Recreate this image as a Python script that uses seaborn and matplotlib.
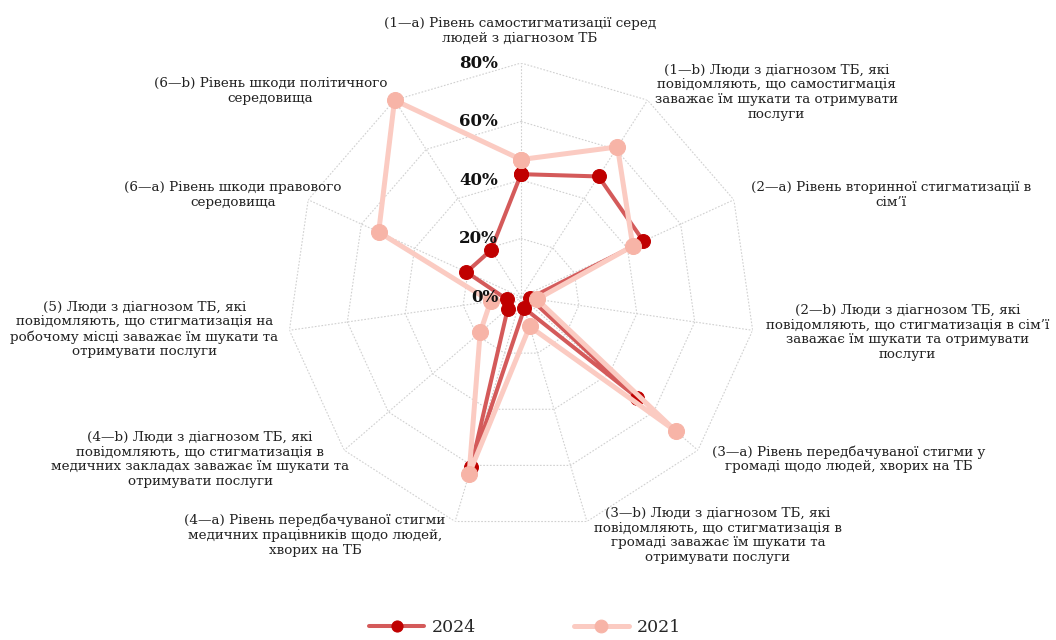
import numpy as np
import pandas as pd
import matplotlib
matplotlib.use("Agg")
import matplotlib.pyplot as plt
import seaborn as sns

# ---- data ----
categories = [
    "(1—a) Рівень самостигматизації серед\nлюдей з діагнозом ТБ",
    "(1—b) Люди з діагнозом ТБ, які\nповідомляють, що самостигмація\nзаважає їм шукати та отримувати\nпослуги",
    "(2—a) Рівень вторинної стигматизації в\nсім’ї",
    "(2—b) Люди з діагнозом ТБ, які\nповідомляють, що стигматизація в сім’ї\nзаважає їм шукати та отримувати\nпослуги",
    "(3—a) Рівень передбачуваної стигми у\nгромаді щодо людей, хворих на ТБ",
    "(3—b) Люди з діагнозом ТБ, які\nповідомляють, що стигматизація в\nгромаді заважає їм шукати та\nотримувати послуги",
    "(4—a) Рівень передбачуваної стигми\nмедичних працівників щодо людей,\nхворих на ТБ",
    "(4—b) Люди з діагнозом ТБ, які\nповідомляють, що стигматизація в\nмедичних закладах заважає їм шукати та\nотримувати послуги",
    "(5) Люди з діагнозом ТБ, які\nповідомляють, що стигматизація на\nробочому місці заважає їм шукати та\nотримувати послуги",
    "(6—a) Рівень шкоди правового\nсередовища",
    "(6—b) Рівень шкоди політичного\nсередовища",
]
values_2024 = [42, 49, 46, 3, 52.5, 4, 60.5, 6, 5, 20.5, 19]
values_2021 = [47, 61, 42, 5.5, 70, 10.5, 63, 18.5, 10.5, 53.5, 80]
series_names = ["2024", "2021"]
tick_values = [0, 20, 40, 60, 80]
tick_labels = ["0%", "20%", "40%", "60%", "80%"]

# ---- style ----
sns.set_theme(style="white")
plt.rcParams["font.family"] = ["DejaVu Serif"]

fig = plt.figure(figsize=(10.56, 6.4), dpi=100)
ax = fig.add_axes([0.2718, 0.1703, 0.4432, 0.73125], projection="polar")
ax.set_theta_zero_location("N")
ax.set_theta_direction(-1)
ax.set_ylim(0, 80)
ax.grid(False)
ax.spines["polar"].set_visible(False)
ax.set_xticks([])
ax.set_yticks([])
ax.patch.set_alpha(0)

n = len(categories)
angles = np.arange(n) * 2 * np.pi / n
closed_angles = np.append(angles, angles[0])

# polygon grid
grid_kw = dict(color="#d0d0d0", lw=0.8, ls=(0, (1.5, 1.5)), zorder=0)
for r in tick_values[1:]:
    ax.plot(closed_angles, [r] * (n + 1), **grid_kw)
for a in angles:
    ax.plot([a, a], [0, tick_values[-1]], **grid_kw)

# series
df = pd.DataFrame({
    "angle": np.concatenate([closed_angles, closed_angles]),
    "value": np.concatenate([np.append(values_2024, values_2024[0]),
                             np.append(values_2021, values_2021[0])]),
    "year": [series_names[0]] * (n + 1) + [series_names[1]] * (n + 1),
})
styles = {
    "2024": dict(color="#D45A5A", markerfacecolor="#C00000", markeredgecolor="#C00000",
                 lw=2.9, markersize=10),
    "2021": dict(color="#FBCBC2", markerfacecolor="#F7B4A7", markeredgecolor="#F7B4A7",
                 lw=3.6, markersize=11.5),
}
for i, yr in enumerate(series_names):
    sub = df[df["year"] == yr]
    sns.lineplot(data=sub, x="angle", y="value", ax=ax, sort=False, estimator=None,
                 marker="o", label=yr, clip_on=False, zorder=3 + i, **styles[yr])
ax.set_xlabel("")
ax.set_ylabel("")
if ax.get_legend() is not None:
    ax.get_legend().remove()

# radial tick labels
for v, lab in zip(tick_values, tick_labels):
    ax.annotate(lab, xy=(0, v), xytext=(-23, 0), textcoords="offset pixels",
                ha="right", va="center", fontsize=12, fontweight="bold",
                color="#111111", zorder=10, annotation_clip=False)

# category labels (offsets in pixels from outer spoke ends)
label_offsets = [(-1, 32), (129, 8), (157, 5), (155, -2), (151, -9), (131, -14),
                 (-140, -14), (-144, -9), (-145, 1), (-75, 5), (-124, 9)]
for a, lab, off in zip(angles, categories, label_offsets):
    ax.annotate(lab, xy=(a, tick_values[-1]), xytext=off, textcoords="offset pixels",
                ha="center", va="center", multialignment="center", fontsize=9.7,
                linespacing=1.18, color="#222222", annotation_clip=False)

# legend
handles, labels = ax.get_legend_handles_labels()
fig.legend(handles, labels, loc="center", bbox_to_anchor=(525 / 1056, 12 / 640),
           ncol=2, frameon=False, fontsize=12.5, handlelength=3.2,
           handletextpad=0.45, columnspacing=5.6, markerscale=0.8)

fig.savefig("out.png", dpi=100)
